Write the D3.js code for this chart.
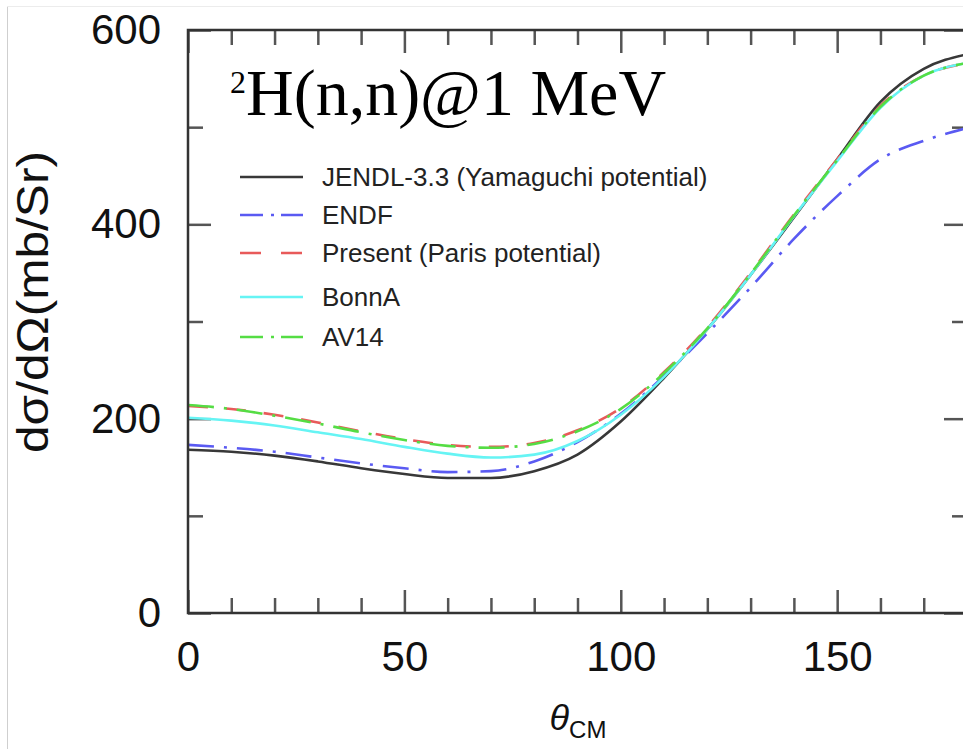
<!DOCTYPE html>
<html>
<head>
<meta charset="utf-8">
<script src="https://cdn.jsdelivr.net/npm/d3@7"></script>
<style>
  body { margin: 0; background: #fff; }
  svg { display: block; }
</style>
</head>
<body>
<div id="chart"></div>
<script>
// angles (deg, CM frame)
const angles = [0, 10, 20, 30, 40, 50, 60, 70, 80, 90, 100, 110, 120, 130, 140, 150, 160, 170, 180];

// dsigma/dOmega in mb/sr
const jendl   = [168, 166, 162, 156, 149, 143, 139, 139, 146, 163, 197, 242, 292, 348, 407, 467, 526, 560, 575];
const endf    = [173, 170, 166, 160, 154, 149, 145, 146, 156, 176, 205, 244, 288, 335, 385, 429, 467, 486, 499];
const present = [213, 210, 204, 196, 187, 179, 173, 171, 175, 188, 211, 248, 294, 350, 410, 467, 522, 553, 566];
const bonnA   = [201, 198, 193, 186, 179, 171, 164, 160, 163, 177, 204, 243, 292, 348, 408, 465, 520, 553, 566];
const av14    = [214, 210, 203, 195, 186, 178, 172, 170, 174, 187, 210, 247, 293, 349, 409, 466, 521, 553, 566];

const seriesNames = ["JENDL-3.3 (Yamaguchi potential)", "ENDF", "Present (Paris potential)", "BonnA", "AV14"];

const xMajorTicks = [0, 50, 100, 150];
const xMinorTicks = [10, 20, 30, 40, 60, 70, 80, 90, 110, 120, 130, 140, 160, 170];
const yMajorTicks = [0, 200, 400, 600];
const yMinorTicks = [100, 300, 500];

(function() {
    const width = 963, height = 749;
    const left = 188, right = 967, top = 30, bottom = 613;

    const svg = d3.select("#chart").append("svg")
        .attr("width", width)
        .attr("height", height);

    // faint frame of the original slide
    svg.append("line").attr("x1", 7.5).attr("x2", 7.5).attr("y1", 6).attr("y2", height)
        .attr("stroke", "#cfcfcf").attr("stroke-width", 1);
    svg.append("line").attr("x1", 7).attr("x2", width).attr("y1", 6.5).attr("y2", 6.5)
        .attr("stroke", "#ececec").attr("stroke-width", 1);

    const x = d3.scaleLinear().domain([0, 180]).range([left, right]);
    const y = d3.scaleLinear().domain([0, 600]).range([bottom, top]);

    const styles = [
        {color: "#383838", dash: null},
        {color: "#5a5af2", dash: "26,10,3,10"},
        {color: "#e85a5a", dash: "20,18"},
        {color: "#66f4f4", dash: null},
        {color: "#55dd44", dash: "26,10,3,10"}
    ];
    const allSeries = [jendl, endf, present, bonnA, av14];

    // ticks (all inward, mirrored on all four sides)
    function tickAxis(axisFn, scale, values, size, tx, ty) {
        const g = svg.append("g")
            .attr("transform", "translate(" + tx + "," + ty + ")")
            .call(axisFn(scale).tickValues(values).tickSizeInner(size).tickSizeOuter(0).tickFormat(""));
        g.select(".domain").remove();
        g.selectAll(".tick line").attr("stroke", "#555").attr("stroke-width", 2.5);
        return g;
    }
    tickAxis(d3.axisBottom, x, xMajorTicks, -23, 0, bottom);
    tickAxis(d3.axisBottom, x, xMinorTicks, -15, 0, bottom);
    tickAxis(d3.axisTop, x, xMajorTicks, -23, 0, top);
    tickAxis(d3.axisTop, x, xMinorTicks, -15, 0, top);
    tickAxis(d3.axisLeft, y, yMajorTicks, -23, left, 0);
    tickAxis(d3.axisLeft, y, yMinorTicks, -15, left, 0);
    tickAxis(d3.axisRight, y, yMajorTicks, -23, right, 0);
    tickAxis(d3.axisRight, y, yMinorTicks, -15, right, 0);

    // tick labels
    const xLab = svg.append("g")
        .attr("transform", "translate(0," + bottom + ")")
        .call(d3.axisBottom(x).tickValues(xMajorTicks).tickSize(0).tickPadding(28));
    xLab.select(".domain").remove();
    xLab.selectAll("text")
        .attr("font-family", "'Liberation Sans', Arial, sans-serif")
        .attr("font-size", 42).attr("fill", "#111");

    const yLab = svg.append("g")
        .attr("transform", "translate(" + left + ",0)")
        .call(d3.axisLeft(y).tickValues(yMajorTicks).tickSize(0).tickPadding(27));
    yLab.select(".domain").remove();
    yLab.selectAll("text")
        .attr("font-family", "'Liberation Sans', Arial, sans-serif")
        .attr("font-size", 42).attr("fill", "#111");

    // curves
    const line = d3.line()
        .x((d, i) => x(angles[i]))
        .y(d => y(d))
        .curve(d3.curveMonotoneX);

    svg.append("defs").append("clipPath").attr("id", "plotclip")
        .append("rect").attr("x", left).attr("y", top).attr("width", right - left).attr("height", bottom - top);

    svg.append("g").attr("clip-path", "url(#plotclip)")
        .selectAll("path")
        .data(allSeries)
        .enter()
        .append("path")
        .attr("d", d => line(d))
        .attr("fill", "none")
        .attr("stroke", (d, i) => styles[i].color)
        .attr("stroke-width", 2.6)
        .attr("stroke-dasharray", (d, i) => styles[i].dash);

    // frame
    svg.append("rect")
        .attr("x", left).attr("y", top)
        .attr("width", right - left).attr("height", bottom - top)
        .attr("fill", "none").attr("stroke", "#333").attr("stroke-width", 2.5);

    // legend
    const legendRows = [177, 215, 253, 297, 337];
    const legend = svg.append("g");
    seriesNames.forEach((name, i) => {
        legend.append("line")
            .attr("x1", 240).attr("x2", 303)
            .attr("y1", legendRows[i]).attr("y2", legendRows[i])
            .attr("stroke", styles[i].color)
            .attr("stroke-width", 2.6)
            .attr("stroke-dasharray", styles[i].dash ? (i == 2 ? "21,20" : "23,8,3,7") : null);
        legend.append("text")
            .attr("x", 322).attr("y", legendRows[i])
            .attr("dy", "0.35em")
            .attr("font-family", "'Liberation Sans', Arial, sans-serif")
            .attr("font-size", 26)
            .attr("fill", "#222")
            .text(name);
    });

    // title
    const title = svg.append("text")
        .attr("x", 230).attr("y", 115)
        .attr("font-family", "'Liberation Serif', 'Times New Roman', serif")
        .attr("font-size", 66)
        .attr("fill", "#000");
    title.append("tspan").attr("font-size", 32).attr("dy", -22).text("2");
    title.append("tspan").attr("dy", 22).text("H(n,n)@1 MeV");

    // axis titles
    svg.append("text")
        .attr("transform", "translate(48," + 302 + ") rotate(-90)")
        .attr("text-anchor", "middle")
        .attr("font-family", "'Liberation Sans', Arial, sans-serif")
        .attr("font-size", 44)
        .attr("textLength", 302)
        .attr("lengthAdjust", "spacingAndGlyphs")
        .attr("fill", "#111")
        .text("dσ/dΩ(mb/Sr)");

    const xTitle = svg.append("text")
        .attr("x", 578).attr("y", 730)
        .attr("text-anchor", "middle")
        .attr("font-family", "'Liberation Sans', Arial, sans-serif")
        .attr("fill", "#111");
    xTitle.append("tspan").attr("font-size", 36).attr("font-style", "italic").text("θ");
    xTitle.append("tspan").attr("font-size", 24).attr("dy", 8).text("CM");
})();
</script>
</body>
</html>
